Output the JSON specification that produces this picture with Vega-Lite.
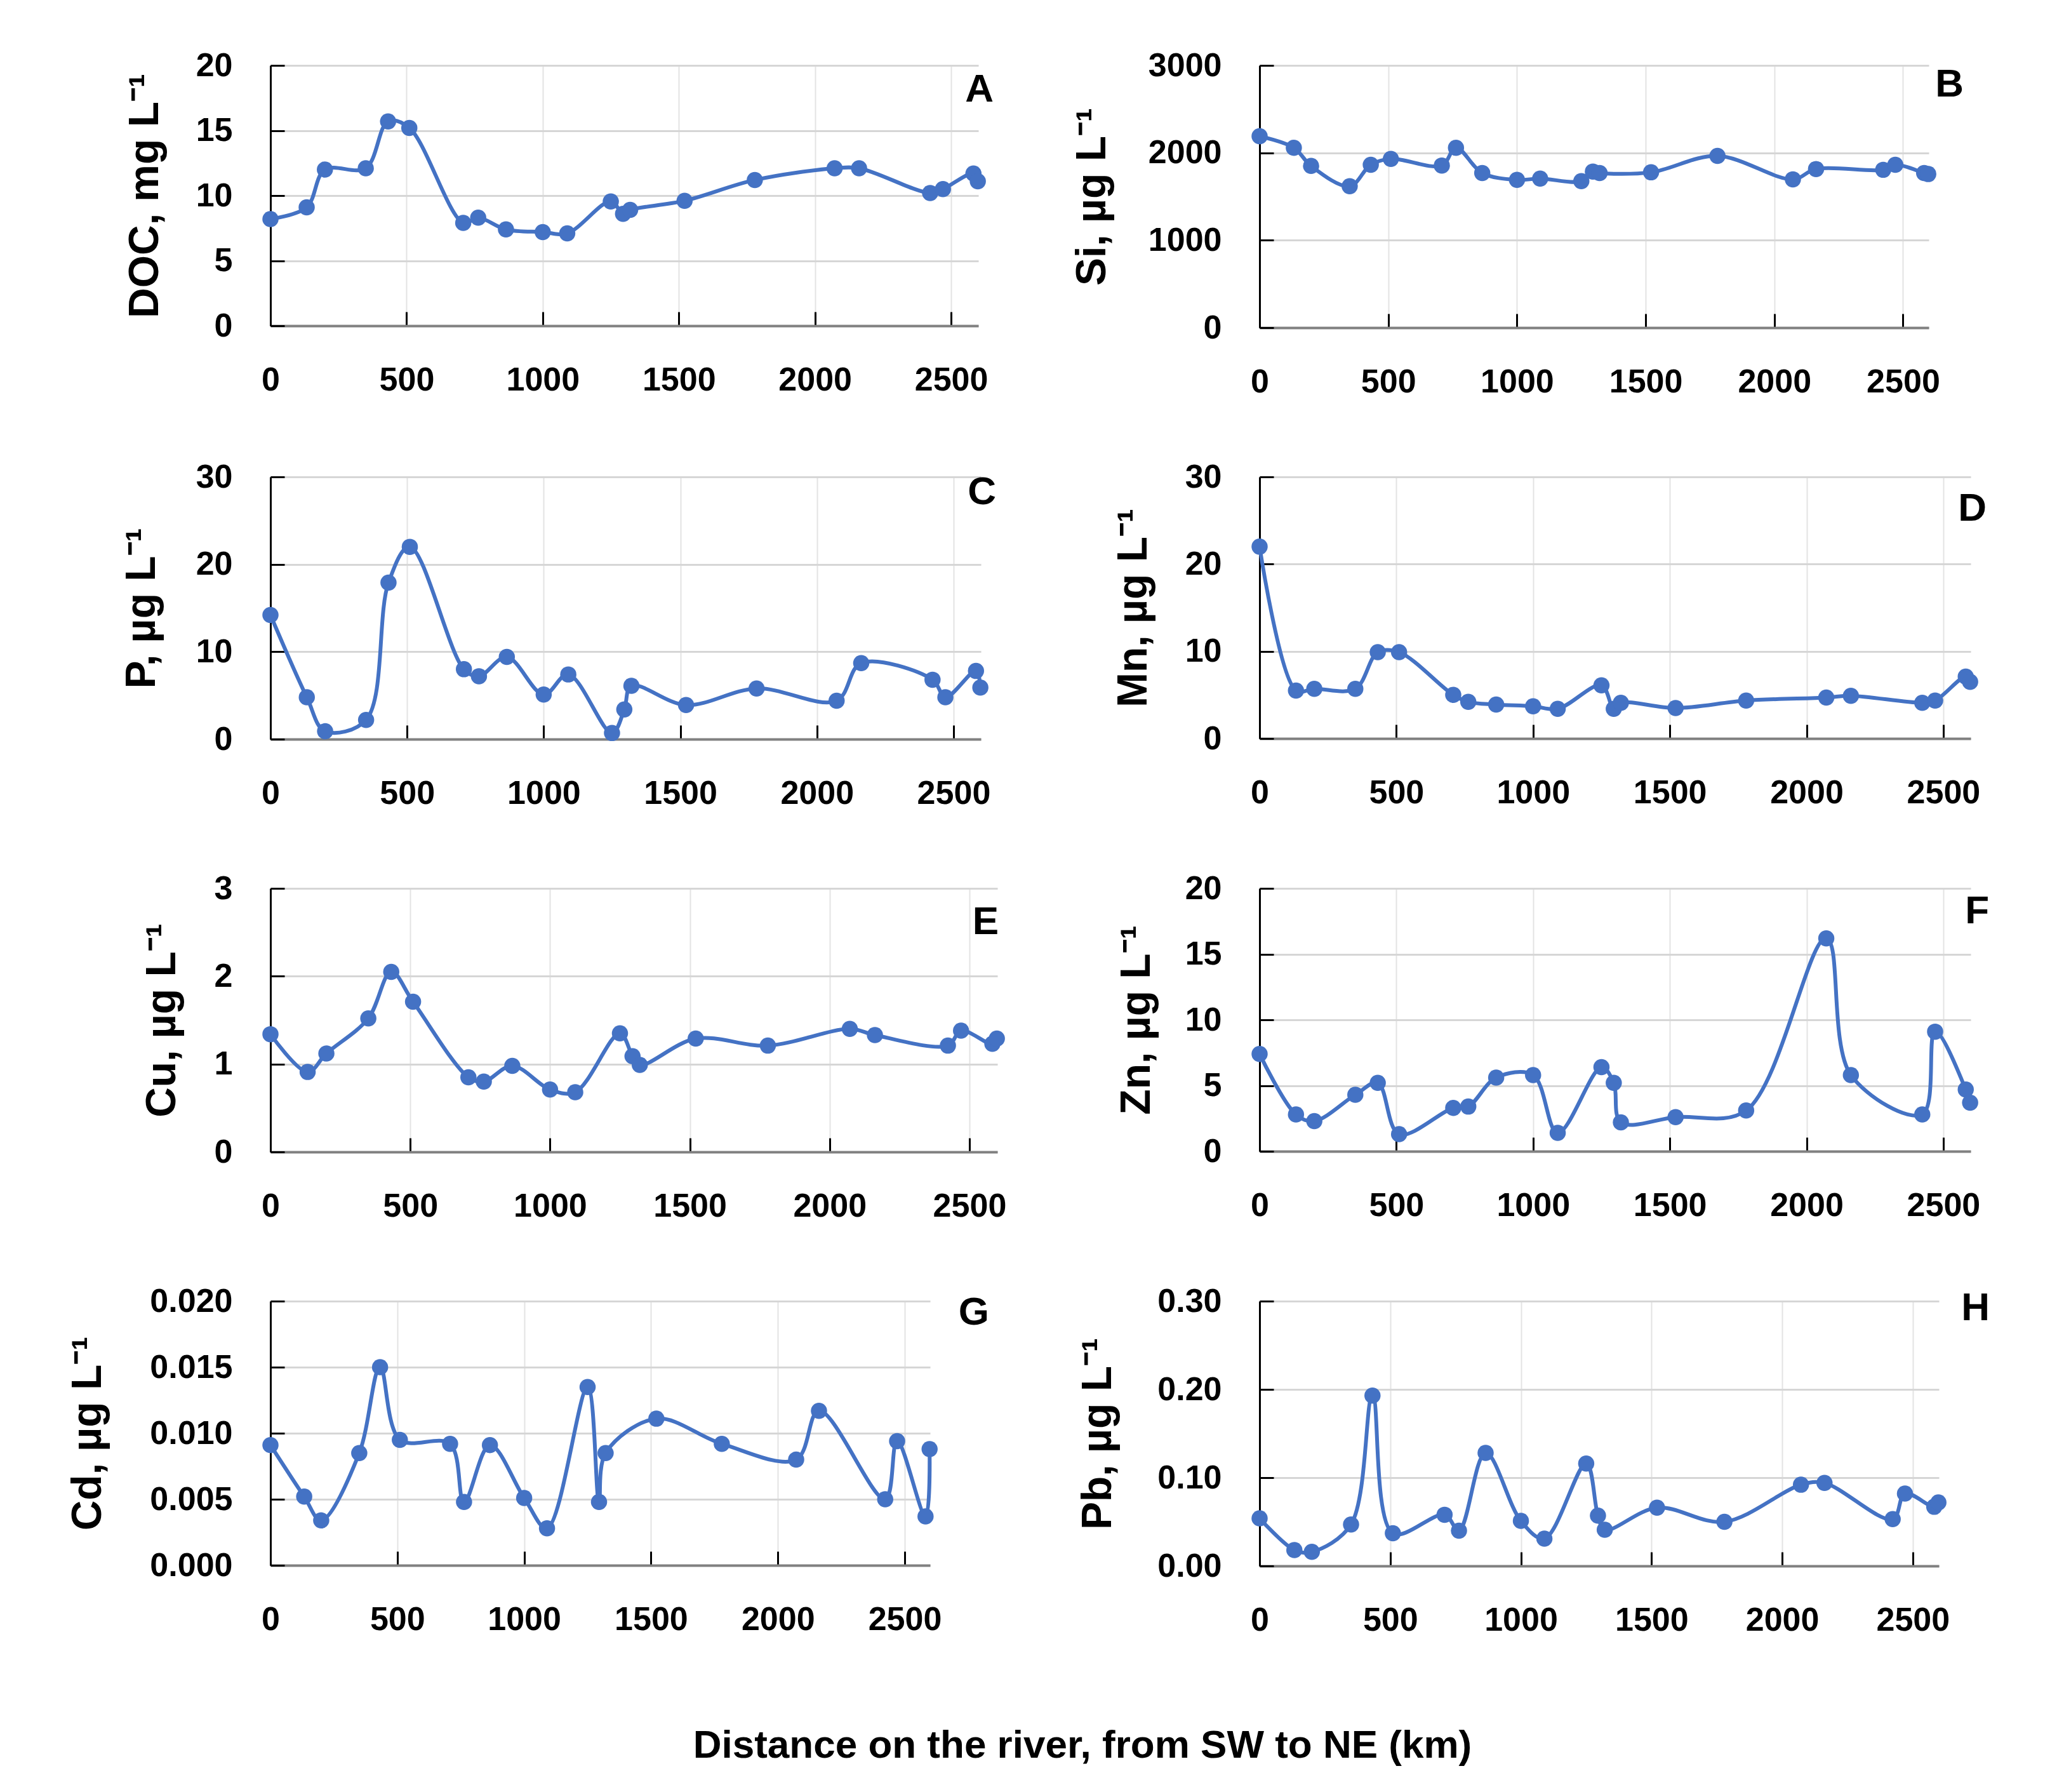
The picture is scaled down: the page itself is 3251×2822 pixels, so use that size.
{
  "$schema": "https://vega.github.io/schema/vega-lite/v6.json",
  "padding": {"left": 105, "top": 77, "right": 90, "bottom": 20},
  "background": "white",
  "datasets": {
    "river": [
      {"km": 0, "DOC": 8.2, "Si": 2190, "P": 14.2, "Mn": 22.0, "Cu": 1.34, "Zn": 7.4, "Cd": 0.0091, "Pb": 0.054},
      {"km": 133, "DOC": 9.1, "Si": 2058, "P": 4.8, "Mn": 5.5, "Cu": 0.91, "Zn": 2.8, "Cd": 0.0052, "Pb": 0.018},
      {"km": 200, "DOC": 12.0, "Si": 1850, "P": 0.9, "Mn": 5.7, "Cu": 1.12, "Zn": 2.3, "Cd": 0.0034, "Pb": 0.016},
      {"km": 350, "DOC": 12.1, "Si": 1618, "P": 2.2, "Mn": 5.7, "Cu": 1.52, "Zn": 4.3, "Cd": 0.0085, "Pb": 0.047},
      {"km": 432, "DOC": 15.7, "Si": 1864, "P": 17.9, "Mn": 9.9, "Cu": 2.05, "Zn": 5.2, "Cd": 0.0150, "Pb": 0.193},
      {"km": 510, "DOC": 15.2, "Si": 1931, "P": 22.0, "Mn": 9.9, "Cu": 1.71, "Zn": 1.3, "Cd": 0.0095, "Pb": 0.037},
      {"km": 708, "DOC": 7.9, "Si": 1855, "P": 8.0, "Mn": 5.0, "Cu": 0.85, "Zn": 3.3, "Cd": 0.0092, "Pb": 0.058},
      {"km": 763, "DOC": 8.3, "Si": 2058, "P": 7.2, "Mn": 4.2, "Cu": 0.80, "Zn": 3.4, "Cd": 0.0048, "Pb": 0.040},
      {"km": 865, "DOC": 7.4, "Si": 1769, "P": 9.4, "Mn": 3.9, "Cu": 0.98, "Zn": 5.6, "Cd": 0.0091, "Pb": 0.128},
      {"km": 1000, "DOC": 7.2, "Si": 1691, "P": 5.1, "Mn": 3.7, "Cu": 0.71, "Zn": 5.8, "Cd": 0.0051, "Pb": 0.051},
      {"km": 1090, "DOC": 7.1, "Si": 1705, "P": 7.4, "Mn": 3.4, "Cu": 0.68, "Zn": 1.4, "Cd": 0.0028, "Pb": 0.031},
      {"km": 1250, "DOC": 9.55, "Si": 1676, "P": 0.7, "Mn": 6.1, "Cu": 1.35, "Zn": 6.4, "Cd": 0.0135, "Pb": 0.116},
      {"km": 1295, "DOC": 8.6, "Si": 1786, "P": 3.4, "Mn": 3.4, "Cu": 1.09, "Zn": 5.2, "Cd": 0.0048, "Pb": 0.057},
      {"km": 1321, "DOC": 8.9, "Si": 1769, "P": 6.1, "Mn": 4.1, "Cu": 0.99, "Zn": 2.2, "Cd": 0.0085, "Pb": 0.041},
      {"km": 1521, "DOC": 9.6, "Si": 1777, "P": 3.9, "Mn": 3.5, "Cu": 1.29, "Zn": 2.6, "Cd": 0.0111, "Pb": 0.066},
      {"km": 1779, "DOC": 11.2, "Si": 1965, "P": 5.8, "Mn": 4.35, "Cu": 1.21, "Zn": 3.1, "Cd": 0.0092, "Pb": 0.050},
      {"km": 2072, "DOC": 12.1, "Si": 1697, "P": 4.4, "Mn": 4.7, "Cu": 1.40, "Zn": 16.2, "Cd": 0.0080, "Pb": 0.092},
      {"km": 2162, "DOC": 12.1, "Si": 1815, "P": 8.7, "Mn": 4.9, "Cu": 1.33, "Zn": 5.8, "Cd": 0.0117, "Pb": 0.094},
      {"km": 2423, "DOC": 10.2, "Si": 1806, "P": 6.8, "Mn": 4.1, "Cu": 1.21, "Zn": 2.8, "Cd": 0.0050, "Pb": 0.053},
      {"km": 2470, "DOC": 10.5, "Si": 1864, "P": 4.8, "Mn": 4.35, "Cu": 1.38, "Zn": 9.1, "Cd": 0.0094, "Pb": 0.082},
      {"km": 2582, "DOC": 11.7, "Si": 1769, "P": 7.8, "Mn": 7.1, "Cu": 1.23, "Zn": 4.7, "Cd": 0.0037, "Pb": 0.067},
      {"km": 2598, "DOC": 11.1, "Si": 1757, "P": 5.9, "Mn": 6.5, "Cu": 1.29, "Zn": 3.7, "Cd": 0.0088, "Pb": 0.072}
    ]
  },
  "title": {"text": "Distance on the river, from SW to NE (km)", "orient": "bottom", "anchor": "middle", "fontSize": 62, "fontWeight": "bold", "color": "#000000", "offset": 142, "dx": 85},
  "columns": 2,
  "spacing": {"row": 235, "column": 413},
  "bounds": "flush",
  "concat": [
    {
      "width": 1115, "height": 410,
      "title": {"text": "A", "anchor": "end", "frame": "group", "orient": "top", "offset": 0, "baseline": "alphabetic", "dx": 24, "dy": 145, "fontSize": 62, "fontWeight": "bold", "color": "#000000"},
      "data": {"name": "river"},
      "mark": {"type": "line", "interpolate": "catmull-rom", "color": "#4472C4", "strokeWidth": 6, "point": {"filled": true, "size": 650, "color": "#4472C4"}},
      "encoding": {
        "x": {"field": "km", "type": "quantitative", "scale": {"domain": [0, 2600], "nice": false}, "axis": {"values": [0, 500, 1000, 1500, 2000, 2500], "format": "d", "title": null}},
        "y": {"field": "DOC", "type": "quantitative", "scale": {"domain": [0, 20], "nice": false}, "axis": {"values": [0, 5, 10, 15, 20], "format": "d", "title": "DOC, mg L⁻¹", "titlePadding": 46}}
      }
    },
    {
      "width": 1054, "height": 413,
      "title": {"text": "B", "anchor": "end", "frame": "group", "orient": "top", "offset": 0, "baseline": "alphabetic", "dx": 55, "dy": 137, "fontSize": 62, "fontWeight": "bold", "color": "#000000"},
      "data": {"name": "river"},
      "mark": {"type": "line", "interpolate": "catmull-rom", "color": "#4472C4", "strokeWidth": 6, "point": {"filled": true, "size": 650, "color": "#4472C4"}},
      "encoding": {
        "x": {"field": "km", "type": "quantitative", "scale": {"domain": [0, 2600], "nice": false}, "axis": {"values": [0, 500, 1000, 1500, 2000, 2500], "format": "d", "title": null}},
        "y": {"field": "Si", "type": "quantitative", "scale": {"domain": [0, 3000], "nice": false}, "axis": {"values": [0, 1000, 2000, 3000], "format": "d", "title": "Si, µg L⁻¹", "titlePadding": 54}}
      }
    },
    {
      "width": 1119, "height": 413,
      "title": {"text": "C", "anchor": "end", "frame": "group", "orient": "top", "offset": 0, "baseline": "alphabetic", "dx": 24, "dy": 131, "fontSize": 62, "fontWeight": "bold", "color": "#000000"},
      "data": {"name": "river"},
      "mark": {"type": "line", "interpolate": "catmull-rom", "color": "#4472C4", "strokeWidth": 6, "point": {"filled": true, "size": 650, "color": "#4472C4"}},
      "encoding": {
        "x": {"field": "km", "type": "quantitative", "scale": {"domain": [0, 2600], "nice": false}, "axis": {"values": [0, 500, 1000, 1500, 2000, 2500], "format": "d", "title": null}},
        "y": {"field": "P", "type": "quantitative", "scale": {"domain": [0, 30], "nice": false}, "axis": {"values": [0, 10, 20, 30], "format": "d", "title": "P, µg L⁻¹", "titlePadding": 51}}
      }
    },
    {
      "width": 1120, "height": 412,
      "title": {"text": "D", "anchor": "end", "frame": "group", "orient": "top", "offset": 0, "baseline": "alphabetic", "dx": 25, "dy": 157, "fontSize": 62, "fontWeight": "bold", "color": "#000000"},
      "data": {"name": "river"},
      "mark": {"type": "line", "interpolate": "catmull-rom", "color": "#4472C4", "strokeWidth": 6, "point": {"filled": true, "size": 650, "color": "#4472C4"}},
      "encoding": {
        "x": {"field": "km", "type": "quantitative", "scale": {"domain": [0, 2600], "nice": false}, "axis": {"values": [0, 500, 1000, 1500, 2000, 2500], "format": "d", "title": null}},
        "y": {"field": "Mn", "type": "quantitative", "scale": {"domain": [0, 30], "nice": false}, "axis": {"values": [0, 10, 20, 30], "format": "d", "title": "Mn, µg L⁻¹", "titlePadding": 47}}
      }
    },
    {
      "width": 1145, "height": 415,
      "title": {"text": "E", "anchor": "end", "frame": "group", "orient": "top", "offset": 0, "baseline": "alphabetic", "dx": 2, "dy": 160, "fontSize": 62, "fontWeight": "bold", "color": "#000000"},
      "data": {"name": "river"},
      "mark": {"type": "line", "interpolate": "catmull-rom", "color": "#4472C4", "strokeWidth": 6, "point": {"filled": true, "size": 650, "color": "#4472C4"}},
      "encoding": {
        "x": {"field": "km", "type": "quantitative", "scale": {"domain": [0, 2600], "nice": false}, "axis": {"values": [0, 500, 1000, 1500, 2000, 2500], "format": "d", "title": null}},
        "y": {"field": "Cu", "type": "quantitative", "scale": {"domain": [0, 3], "nice": false}, "axis": {"values": [0, 1, 2, 3], "format": "d", "title": "Cu, µg L⁻¹", "titlePadding": 48}}
      }
    },
    {
      "width": 1120, "height": 414,
      "title": {"text": "F", "anchor": "end", "frame": "group", "orient": "top", "offset": 0, "baseline": "alphabetic", "dx": 29, "dy": 143, "fontSize": 62, "fontWeight": "bold", "color": "#000000"},
      "data": {"name": "river"},
      "mark": {"type": "line", "interpolate": "catmull-rom", "color": "#4472C4", "strokeWidth": 6, "point": {"filled": true, "size": 650, "color": "#4472C4"}},
      "encoding": {
        "x": {"field": "km", "type": "quantitative", "scale": {"domain": [0, 2600], "nice": false}, "axis": {"values": [0, 500, 1000, 1500, 2000, 2500], "format": "d", "title": null}},
        "y": {"field": "Zn", "type": "quantitative", "scale": {"domain": [0, 20], "nice": false}, "axis": {"values": [0, 5, 10, 15, 20], "format": "d", "title": "Zn, µg L⁻¹", "titlePadding": 42}}
      }
    },
    {
      "width": 1039, "height": 416,
      "title": {"text": "G", "anchor": "end", "frame": "group", "orient": "top", "offset": 0, "baseline": "alphabetic", "dx": 93, "dy": 125, "fontSize": 62, "fontWeight": "bold", "color": "#000000"},
      "data": {"name": "river"},
      "mark": {"type": "line", "interpolate": "catmull-rom", "color": "#4472C4", "strokeWidth": 6, "point": {"filled": true, "size": 650, "color": "#4472C4"}},
      "encoding": {
        "x": {"field": "km", "type": "quantitative", "scale": {"domain": [0, 2600], "nice": false}, "axis": {"values": [0, 500, 1000, 1500, 2000, 2500], "format": "d", "title": null}},
        "y": {"field": "Cd", "type": "quantitative", "scale": {"domain": [0, 0.02], "nice": false}, "axis": {"values": [0, 0.005, 0.01, 0.015, 0.02], "format": ".3f", "title": "Cd, µg L⁻¹", "titlePadding": 63}}
      }
    },
    {
      "width": 1070, "height": 417,
      "title": {"text": "H", "anchor": "end", "frame": "group", "orient": "top", "offset": 0, "baseline": "alphabetic", "dx": 80, "dy": 118, "fontSize": 62, "fontWeight": "bold", "color": "#000000"},
      "data": {"name": "river"},
      "mark": {"type": "line", "interpolate": "catmull-rom", "color": "#4472C4", "strokeWidth": 6, "point": {"filled": true, "size": 650, "color": "#4472C4"}},
      "encoding": {
        "x": {"field": "km", "type": "quantitative", "scale": {"domain": [0, 2600], "nice": false}, "axis": {"values": [0, 500, 1000, 1500, 2000, 2500], "format": "d", "title": null}},
        "y": {"field": "Pb", "type": "quantitative", "scale": {"domain": [0, 0.3], "nice": false}, "axis": {"values": [0, 0.1, 0.2, 0.3], "format": ".2f", "title": "Pb, µg L⁻¹", "titlePadding": 59}}
      }
    }
  ],
  "config": {
    "font": "Liberation Sans",
    "view": {"stroke": null},
    "axis": {
      "labelFontSize": 52, "labelFontWeight": "bold", "labelColor": "#000000", "labelFlush": false,
      "titleFontSize": 66, "titleFontWeight": "bold", "titleColor": "#000000",
      "labelPadding": 82, "tickColor": "#000000", "tickWidth": 3, "tickSize": -22
    },
    "axisX": {"domainColor": "#808080", "domainWidth": 4, "gridColor": "#e3e3e3", "gridWidth": 2},
    "axisY": {"domainColor": "#000000", "domainWidth": 3, "gridColor": "#d6d6d6", "gridWidth": 3}
  }
}
